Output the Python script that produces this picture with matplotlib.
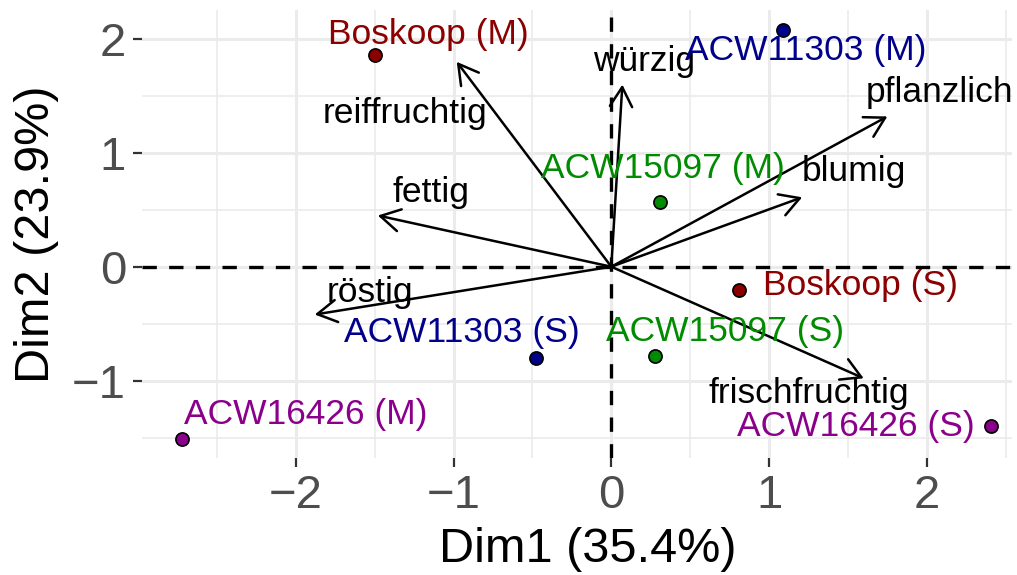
import numpy as np
import matplotlib.pyplot as plt

plt.rcParams['font.family'] = ['Liberation Sans', 'DejaVu Sans']

# sample scores on the first two dimensions
samples = ['Boskoop (M)', 'ACW11303 (M)', 'ACW15097 (M)', 'Boskoop (S)',
           'ACW11303 (S)', 'ACW15097 (S)', 'ACW16426 (M)', 'ACW16426 (S)']
dim1 = [-1.50, 1.09, 0.31, 0.81, -0.48, 0.28, -2.72, 2.41]
dim2 = [1.86, 2.08, 0.57, -0.20, -0.80, -0.78, -1.51, -1.40]
cultivar = ['Boskoop', 'ACW11303', 'ACW15097', 'Boskoop',
            'ACW11303', 'ACW15097', 'ACW16426', 'ACW16426']
# where the repelled sample labels ended up (baseline, centred)
sample_lab_x = [-1.16, 1.23, 0.33, 1.58, -0.95, 0.72, -1.94, 1.55]
sample_lab_y = [1.96, 1.82, 0.78, -0.25, -0.66, -0.65, -1.38, -1.49]

# attribute loadings (arrows from the origin)
attributes = ['reiffruchtig', 'würzig', 'pflanzlich', 'blumig',
              'fettig', 'röstig', 'frischfruchtig']
load1 = [-0.98, 0.07, 1.75, 1.21, -1.48, -1.88, 1.60]
load2 = [1.80, 1.60, 1.32, 0.61, 0.45, -0.42, -0.98]
attr_lab_x = [-1.31, 0.21, 2.08, 1.54, -1.14, -1.53, 1.25]
attr_lab_y = [1.26, 1.72, 1.45, 0.75, 0.57, -0.31, -1.20]

colours = {'Boskoop': '#8B0000', 'ACW11303': '#00008B',
           'ACW15097': '#008B00', 'ACW16426': '#8B008B'}

fig = plt.figure(figsize=(10.17, 5.75), dpi=100)
ax = fig.add_axes([142 / 1017, 1 - 458 / 575, 870 / 1017, 448 / 575])

ax.set_xlim(-2.975, 2.54)
ax.set_ylim(-1.68, 2.255)

# theme_minimal style grid
ax.set_xticks([-2, -1, 0, 1, 2])
ax.set_yticks([-1, 0, 1, 2])
ax.set_xticks(np.arange(-2.5, 3, 1.0), minor=True)
ax.set_yticks(np.arange(-1.5, 2.5, 1.0), minor=True)
ax.grid(which='major', color='#EBEBEB', lw=2.2)
ax.grid(which='minor', color='#EBEBEB', lw=1.2)
ax.set_axisbelow(True)
for s in ax.spines.values():
    s.set_visible(False)
ax.tick_params(which='major', length=6.5, width=1.6, color='#333333',
               labelsize=34, labelcolor='#4D4D4D', pad=5)
ax.tick_params(which='minor', length=0)
ax.set_xticklabels(['\u22122', '\u22121', '0', '1', '2'])
ax.set_yticklabels(['\u22121', '0', '1', '2'])

ax.axhline(0, color='black', lw=2.4, ls=(0, (4.3, 3.7)), zorder=2)
ax.axvline(0, color='black', lw=2.4, ls=(0, (4.3, 3.7)), zorder=2)

for name, x, y, lx, ly in zip(attributes, load1, load2, attr_lab_x, attr_lab_y):
    ax.annotate('', xy=(x, y), xytext=(0, 0),
                arrowprops=dict(arrowstyle='->,head_length=0.7,head_width=0.4',
                                mutation_scale=20, lw=1.8, color='black',
                                shrinkA=0, shrinkB=0), zorder=3)
    ax.text(lx, ly, name, ha='center', va='baseline', fontsize=25.5,
            color='black', zorder=4)

for name, x, y, c, lx, ly in zip(samples, dim1, dim2, cultivar,
                                 sample_lab_x, sample_lab_y):
    ax.scatter(x, y, s=90, color=colours[c], edgecolor='black', lw=1.2,
               zorder=5)
    ax.text(lx, ly, name, ha='center', va='baseline', fontsize=25.5,
            color=colours[c], zorder=4)

fig.text(588 / 1017, 1 - 550 / 575, 'Dim1 (35.4%)', ha='center',
         va='center', fontsize=35)
fig.text(37 / 1017, 1 - 234 / 575, 'Dim2 (23.9%)', ha='center',
         va='center', rotation=90, fontsize=35)

fig.savefig('out.png', dpi=100)
